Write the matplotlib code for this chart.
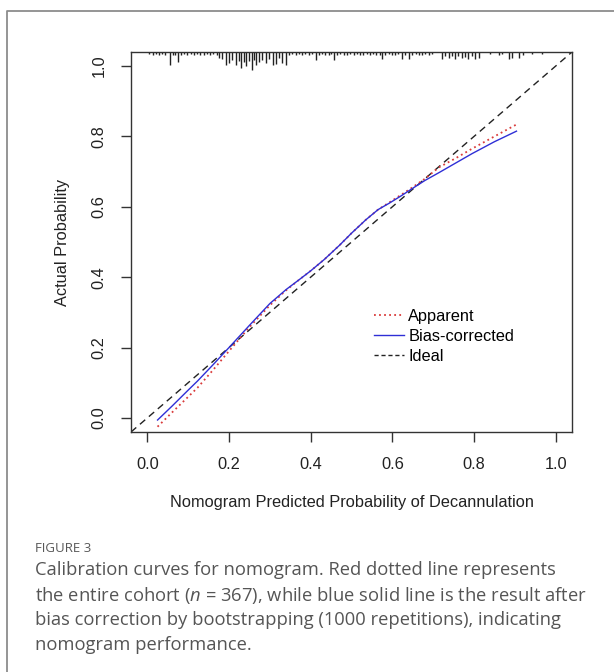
import matplotlib
matplotlib.use("Agg")
import matplotlib.pyplot as plt
from matplotlib.lines import Line2D
import matplotlib.transforms as mtransforms

plt.rcParams['font.family'] = ['Liberation Sans', 'DejaVu Sans']
plt.rcParams['mathtext.fontset'] = 'custom'
plt.rcParams['mathtext.it'] = 'Open Sans:italic'
plt.rcParams['mathtext.rm'] = 'Open Sans'

# ---------------- data ----------------
apparent_x = [0.025, 0.06, 0.10, 0.123, 0.16, 0.20, 0.25, 0.30, 0.34, 0.372, 0.40, 0.433, 0.47, 0.50, 0.535, 0.565, 0.592, 0.62, 0.649, 0.68, 0.714, 0.755, 0.795, 0.85, 0.904]
apparent_y = [-0.025, 0.015, 0.060, 0.086, 0.135, 0.190, 0.258, 0.320, 0.363, 0.393, 0.418, 0.450, 0.490, 0.525, 0.563, 0.592, 0.612, 0.633, 0.655, 0.680, 0.712, 0.738, 0.765, 0.800, 0.834]
bias_x = [0.025, 0.06, 0.10, 0.123, 0.16, 0.20, 0.25, 0.30, 0.34, 0.372, 0.40, 0.433, 0.47, 0.50, 0.535, 0.565, 0.592, 0.62, 0.649, 0.68, 0.714, 0.738, 0.795, 0.85, 0.904]
bias_y = [-0.006, 0.033, 0.079, 0.105, 0.150, 0.200, 0.263, 0.325, 0.365, 0.393, 0.418, 0.450, 0.490, 0.525, 0.563, 0.592, 0.610, 0.630, 0.652, 0.675, 0.697, 0.713, 0.751, 0.785, 0.815]

rug_x = [0.005, 0.013, 0.020, 0.028, 0.036, 0.044, 0.055, 0.062, 0.068, 0.074,
         0.082, 0.090, 0.098, 0.106, 0.114, 0.122, 0.130, 0.138, 0.146, 0.154, 0.162, 0.170,
         0.176, 0.184, 0.192, 0.200, 0.208, 0.216, 0.224, 0.229, 0.236, 0.241, 0.249, 0.256,
         0.262, 0.266, 0.274, 0.282, 0.290, 0.298, 0.307, 0.315, 0.323, 0.331, 0.339,
         0.347, 0.355, 0.363, 0.371, 0.379, 0.387, 0.395, 0.403, 0.412, 0.420, 0.428, 0.436,
         0.444, 0.450, 0.457, 0.465, 0.473, 0.481, 0.489, 0.497, 0.505, 0.513, 0.521, 0.529,
         0.537, 0.545, 0.553, 0.561, 0.569, 0.575, 0.583, 0.591, 0.599, 0.607, 0.615, 0.624,
         0.632, 0.641, 0.649, 0.657, 0.665, 0.673, 0.681, 0.689, 0.697,
         0.722, 0.730, 0.738, 0.746, 0.754, 0.762, 0.770, 0.778, 0.786, 0.794, 0.802, 0.812,
         0.840, 0.861, 0.869, 0.885, 0.893, 0.909, 0.921, 0.942, 0.966]
rug_n = [2, 3, 2, 3, 2, 3, 13, 3, 3, 10,
         3, 2, 3, 2, 3, 2, 3, 3, 2, 3, 2, 3,
         6, 7, 13, 11, 8, 13, 9, 16, 10, 14, 9, 18,
         8, 13, 10, 8, 11, 7, 13, 12, 6, 11, 13,
         3, 2, 3, 2, 3, 2, 3, 2, 8, 3, 2, 3,
         3, 2, 8, 3, 2, 3, 3, 2, 3, 2, 3, 3,
         2, 3, 2, 3, 3, 7, 3, 2, 3, 3, 2, 7,
         3, 7, 3, 2, 3, 3, 2, 3, 2,
         7, 4, 6, 4, 7, 4, 6, 5, 7, 4, 7, 6,
         2, 3, 2, 7, 6, 6, 3, 2, 2]

ticks = [0.0, 0.2, 0.4, 0.6, 0.8, 1.0]
tick_labels = ["0.0", "0.2", "0.4", "0.6", "0.8", "1.0"]
legend_labels = ["Apparent", "Bias-corrected", "Ideal"]
xlabel = "Nomogram Predicted Probability of Decannulation"
ylabel = "Actual Probability"
fig_label = "FIGURE 3"
caption = ["Calibration curves for nomogram. Red dotted line represents",
           "the entire cohort ($n$ = 367), while blue solid line is the result after",
           "bias correction by bootstrapping (1000 repetitions), indicating",
           "nomogram performance."]

# ---------------- figure ----------------
W, H = 614, 672
fig = plt.figure(figsize=(W / 100, H / 100), dpi=100)
fig.patch.set_facecolor('white')

# outer frame (open at right/bottom)
fig.add_artist(Line2D([6.5 / W, 6.5 / W, 1.0], [0.0, 1 - 10.5 / H, 1 - 10.5 / H],
                      transform=fig.transFigure, color='#8c8c8c', lw=1.3))

ax = fig.add_axes([131 / W, 1 - 432 / H, (572 - 131) / W, (432 - 52) / H])
lo, hi = -0.04, 1.04
ax.set_xlim(lo, hi)
ax.set_ylim(lo, hi)

red = '#d93b3b'
blue = '#2f2fd6'
dark = '#333333'
fs = 11.8

ax.plot([lo, hi], [lo, hi], color='#222222', lw=1.0, ls=(0, (5, 3.5)))
ax.plot(apparent_x, apparent_y, color=red, lw=1.3, ls=(0, (1, 1.8)))
ax.plot(bias_x, bias_y, color=blue, lw=1.0, ls='-')

# rug of predicted probabilities along top
ax_h_px = 432 - 52
blend = mtransforms.blended_transform_factory(ax.transData, ax.transAxes)
ax.vlines(rug_x, [1 - n / ax_h_px for n in rug_n], 1.0, transform=blend,
          color='#222222', lw=1.0)

for s in ax.spines.values():
    s.set_color(dark)
    s.set_linewidth(1.0)

ax.set_xticks(ticks)
ax.set_xticklabels(tick_labels)
ax.set_yticks(ticks)
ax.set_yticklabels(tick_labels, rotation=90, va='center')
ax.tick_params(axis='both', direction='out', length=7.2, width=1.0, color=dark,
               labelsize=fs, labelcolor='#222222', pad=10.5)

fig.text(352 / W, 1 - 503 / H, xlabel, ha='center', va='center', fontsize=fs, color='#222222')
fig.text(62 / W, 1 - 242 / H, ylabel, ha='center', va='center', rotation=90, fontsize=fs, color='#222222')

handles = [Line2D([], [], color=red, lw=1.3, ls=(0, (1, 1.8))),
           Line2D([], [], color=blue, lw=1.0),
           Line2D([], [], color='#222222', lw=1.0, ls=(0, (3, 2)))]
ax.legend(handles, legend_labels, loc='upper left', bbox_to_anchor=((374 - 131) / 441, (432 - 309) / 380),
          frameon=False, fontsize=fs, handlelength=1.8, handletextpad=0.3,
          labelspacing=0.3, borderpad=0, borderaxespad=0)

# caption
fig.text(35 / W, 1 - 548 / H, fig_label, ha='left', va='center', fontsize=9.5,
         color='#585858', family=['Open Sans', 'DejaVu Sans'])
for i, line in enumerate(caption):
    fig.text(35 / W, 1 - (570 + 25 * i) / H, line, ha='left', va='center', fontsize=13.2,
             color='#555555', family=['Open Sans', 'DejaVu Sans'])

fig.savefig('out.png', dpi=100)
